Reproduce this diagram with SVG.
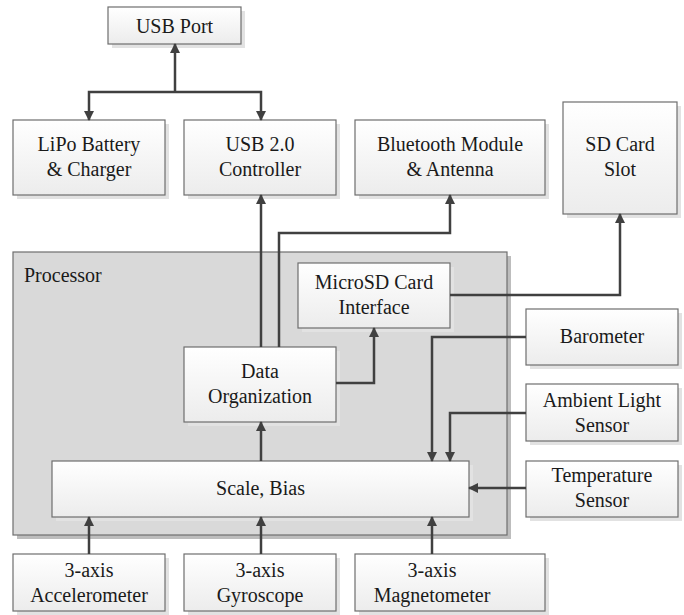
<svg xmlns="http://www.w3.org/2000/svg" width="684" height="615" viewBox="0 0 684 615" font-family="Liberation Serif, Times New Roman, DejaVu Serif, serif">
<defs>
<linearGradient id="g" x1="0" y1="0" x2="0" y2="1">
<stop offset="0" stop-color="#ffffff"/>
<stop offset="1" stop-color="#ececec"/>
</linearGradient>
<marker id="a" viewBox="0 0 10 10" refX="9" refY="5" markerWidth="10" markerHeight="10" markerUnits="userSpaceOnUse" orient="auto">
<path d="M0,0 L10,5 L0,10 z" fill="#404040"/>
</marker>
<style>
.b{fill:url(#g);stroke:#6e6e6e;stroke-width:1.2}
.s{fill:#e2e2e2}
.t{font-size:20px;fill:#1a1a1a;text-anchor:middle}
.c{fill:none;stroke:#404040;stroke-width:2.5;marker-end:url(#a)}
</style>
</defs>
<rect width="684" height="615" fill="#ffffff"/>
<g id="processor">
<rect x="17" y="256" width="494" height="283" fill="#bdbdbd"/>
<rect x="13" y="252" width="494" height="283" fill="#d9d9d9" stroke="#6e6e6e" stroke-width="1.2"/>
<text x="24" y="282" class="t" font-family="Liberation Serif, serif" style="text-anchor:start">Processor</text>
</g>
<g id="usb-port">
<rect x="112" y="11" width="133" height="37" class="s"/>
<rect x="108" y="7" width="133" height="37" class="b"/>
<text x="174.5" y="32.5" class="t" font-family="Liberation Serif, serif">USB Port</text>
</g>
<g id="lipo" font-family="Liberation Serif, serif">
<rect x="17" y="124" width="152" height="75" class="s"/>
<rect x="13" y="120" width="152" height="75" class="b"/>
<text x="89" y="151" class="t">LiPo Battery</text>
<text x="89" y="176" class="t">&amp; Charger</text>
</g>
<g id="usb-controller" font-family="Liberation Serif, serif">
<rect x="188" y="124" width="152" height="75" class="s"/>
<rect x="184" y="120" width="152" height="75" class="b"/>
<text x="260" y="151" class="t">USB 2.0</text>
<text x="260" y="176" class="t">Controller</text>
</g>
<g id="bluetooth" font-family="Liberation Serif, serif">
<rect x="359" y="124" width="190" height="75" class="s"/>
<rect x="355" y="120" width="190" height="75" class="b"/>
<text x="450" y="151" class="t">Bluetooth Module</text>
<text x="450" y="176" class="t">&amp; Antenna</text>
</g>
<g id="sd-slot" font-family="Liberation Serif, serif">
<rect x="567" y="106" width="114" height="112" class="s"/>
<rect x="563" y="102" width="114" height="112" class="b"/>
<text x="620" y="151" class="t">SD Card</text>
<text x="620" y="176" class="t">Slot</text>
</g>
<g id="microsd" font-family="Liberation Serif, serif">
<rect x="302" y="267" width="152" height="65" class="s"/>
<rect x="298" y="263" width="152" height="65" class="b"/>
<text x="374" y="289" class="t">MicroSD Card</text>
<text x="374" y="314" class="t">Interface</text>
</g>
<g id="data-org" font-family="Liberation Serif, serif">
<rect x="188" y="351" width="152" height="75" class="s"/>
<rect x="184" y="347" width="152" height="75" class="b"/>
<text x="260" y="378" class="t">Data</text>
<text x="260" y="403" class="t">Organization</text>
</g>
<g id="scale-bias" font-family="Liberation Serif, serif">
<rect x="56" y="465" width="417" height="56" class="s"/>
<rect x="52" y="461" width="417" height="56" class="b"/>
<text x="260.5" y="495" class="t">Scale, Bias</text>
</g>
<g id="barometer" font-family="Liberation Serif, serif">
<rect x="530" y="313" width="152" height="56" class="s"/>
<rect x="526" y="309" width="152" height="56" class="b"/>
<text x="602" y="343" class="t">Barometer</text>
</g>
<g id="ambient" font-family="Liberation Serif, serif">
<rect x="530" y="388" width="152" height="57" class="s"/>
<rect x="526" y="384" width="152" height="57" class="b"/>
<text x="602" y="407" class="t">Ambient Light</text>
<text x="602" y="432" class="t">Sensor</text>
</g>
<g id="temperature" font-family="Liberation Serif, serif">
<rect x="530" y="465" width="152" height="56" class="s"/>
<rect x="526" y="461" width="152" height="56" class="b"/>
<text x="602" y="482" class="t">Temperature</text>
<text x="602" y="507" class="t">Sensor</text>
</g>
<g id="accel" font-family="Liberation Serif, serif">
<rect x="17" y="558" width="152" height="57" class="s"/>
<rect x="13" y="554" width="152" height="57" class="b"/>
<text x="89" y="577" class="t">3-axis</text>
<text x="89" y="602" class="t">Accelerometer</text>
</g>
<g id="gyro" font-family="Liberation Serif, serif">
<rect x="188" y="558" width="152" height="57" class="s"/>
<rect x="184" y="554" width="152" height="57" class="b"/>
<text x="260" y="577" class="t">3-axis</text>
<text x="260" y="602" class="t">Gyroscope</text>
</g>
<g id="magneto" font-family="Liberation Serif, serif">
<rect x="359" y="558" width="190" height="57" class="s"/>
<rect x="355" y="554" width="190" height="57" class="b"/>
<text x="432" y="577" class="t">3-axis</text>
<text x="432" y="602" class="t">Magnetometer</text>
</g>
<g id="connectors">
<path class="c" d="M175,92 V44"/>
<path class="c" d="M175,92 H89 V120"/>
<path class="c" d="M175,92 H261 V120"/>
<path class="c" d="M261,347 V195"/>
<path class="c" d="M279,347 V233 H450 V195"/>
<path class="c" d="M336,383 H374 V328"/>
<path class="c" d="M450,295 H620 V214"/>
<path class="c" d="M526,337 H432 V461"/>
<path class="c" d="M526,413 H450 V461"/>
<path class="c" d="M526,488 H469"/>
<path class="c" d="M261,461 V422"/>
<path class="c" d="M89,554 V517"/>
<path class="c" d="M261,554 V517"/>
<path class="c" d="M432,554 V517"/>
</g>
</svg>
